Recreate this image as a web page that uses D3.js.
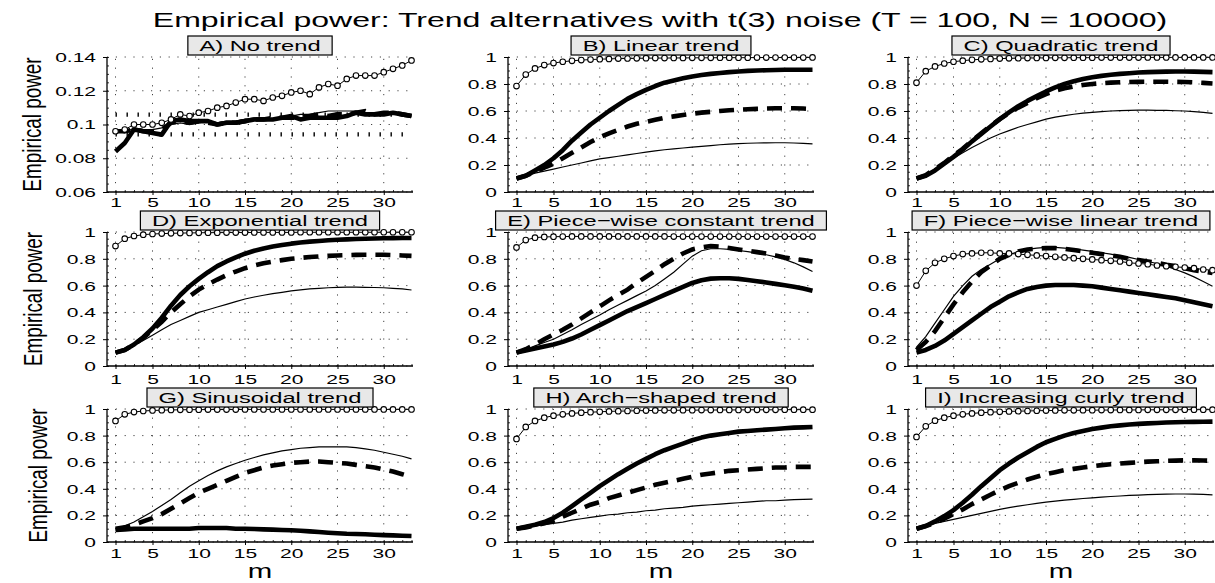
<!DOCTYPE html>
<html>
<head>
<meta charset="utf-8">
<script src="https://cdn.jsdelivr.net/npm/d3@7"></script>
<style>
  html, body { margin: 0; padding: 0; background: #fff; }
  svg { display: block; font-family: "Liberation Sans", Arial, Helvetica, sans-serif; }
</style>
</head>
<body>
<svg id="fig" width="1215" height="583"></svg>
<script>
// ---- data -------------------------------------------------------------
const mValues = d3.range(1, 34);                       // window length m = 1..33
const xTicks = [1, 5, 10, 15, 20, 25, 30];
const xTickLabels = ["1", "5", "10", "15", "20", "25", "30"];
const yTicksA = [0.06, 0.08, 0.1, 0.12, 0.14];
const yTickLabelsA = ["0.06", "0.08", "0.1", "0.12", "0.14"];
const yTicksUnit = [0, 0.2, 0.4, 0.6, 0.8, 1];
const yTickLabelsUnit = ["0", "0.2", "0.4", "0.6", "0.8", "1"];
const bandLevels = [0.0941, 0.1059];                   // 95% band around nominal size 0.1

const panelTitles = [
  "A) No trend", "B) Linear trend", "C) Quadratic trend",
  "D) Exponential trend", "E) Piece\u2212wise constant trend", "F) Piece\u2212wise linear trend",
  "G) Sinusoidal trend", "H) Arch\u2212shaped trend", "I) Increasing curly trend"
];

// A) No trend
const circA  = [0.096,0.097,0.100,0.100,0.100,0.101,0.103,0.106,0.105,0.107,0.108,0.110,0.111,0.113,0.115,0.115,0.114,0.116,0.117,0.119,0.120,0.118,0.122,0.124,0.123,0.127,0.129,0.129,0.129,0.131,0.133,0.135,0.138];
const thickA = [0.084,0.089,0.097,0.096,0.095,0.094,0.102,0.103,0.102,0.102,0.102,0.100,0.101,0.101,0.102,0.103,0.103,0.103,0.104,0.105,0.103,0.104,0.104,0.104,0.104,0.105,0.107,0.106,0.106,0.106,0.107,0.106,0.105];
const dashA  = [0.096,0.096,0.097,0.096,0.096,0.097,0.101,0.102,0.101,0.102,0.101,0.100,0.101,0.101,0.102,0.103,0.103,0.104,0.104,0.104,0.104,0.105,0.106,0.105,0.106,0.106,0.107,0.108,0.106,0.107,0.107,0.106,0.105];
const thinA  = [0.096,0.095,0.098,0.097,0.097,0.098,0.100,0.101,0.100,0.101,0.102,0.101,0.102,0.102,0.103,0.104,0.104,0.103,0.104,0.105,0.106,0.106,0.107,0.108,0.108,0.108,0.108,0.107,0.106,0.107,0.106,0.106,0.105];

// B) Linear trend
const circB  = [0.785,0.87,0.915,0.94,0.955,0.965,0.972,0.977,0.981,0.984,0.986,0.988,0.989,0.99,0.991,0.992,0.992,0.993,0.993,0.994,0.994,0.994,0.995,0.995,0.995,0.995,0.996,0.996,0.996,0.996,0.996,0.996,0.997];
const thickB = [0.10,0.12,0.16,0.20,0.25,0.31,0.38,0.44,0.50,0.55,0.60,0.645,0.69,0.725,0.757,0.785,0.81,0.826,0.842,0.856,0.866,0.875,0.882,0.888,0.893,0.897,0.9,0.902,0.904,0.905,0.906,0.906,0.906];
const dashB  = [0.10,0.12,0.15,0.18,0.21,0.25,0.29,0.33,0.37,0.405,0.435,0.46,0.485,0.505,0.52,0.535,0.55,0.56,0.57,0.58,0.588,0.594,0.6,0.605,0.61,0.613,0.616,0.618,0.62,0.62,0.62,0.618,0.615];
const thinB  = [0.10,0.12,0.14,0.155,0.17,0.185,0.20,0.215,0.23,0.245,0.255,0.265,0.275,0.285,0.295,0.305,0.313,0.32,0.326,0.332,0.338,0.344,0.35,0.355,0.358,0.361,0.363,0.364,0.365,0.365,0.363,0.36,0.356];

// C) Quadratic trend
const circC  = [0.81,0.895,0.93,0.952,0.965,0.973,0.979,0.983,0.986,0.988,0.99,0.991,0.992,0.993,0.993,0.994,0.994,0.995,0.995,0.995,0.996,0.996,0.996,0.996,0.996,0.997,0.997,0.997,0.997,0.997,0.997,0.997,0.997];
const thickC = [0.10,0.12,0.16,0.21,0.26,0.315,0.375,0.43,0.485,0.54,0.59,0.635,0.675,0.71,0.745,0.775,0.80,0.82,0.837,0.85,0.86,0.868,0.875,0.88,0.885,0.888,0.89,0.892,0.893,0.893,0.892,0.89,0.888];
const dashC  = [0.10,0.125,0.17,0.215,0.27,0.32,0.38,0.435,0.49,0.54,0.585,0.625,0.66,0.695,0.725,0.75,0.768,0.782,0.793,0.80,0.806,0.81,0.813,0.815,0.816,0.817,0.817,0.817,0.816,0.815,0.812,0.808,0.804];
const thinC  = [0.10,0.12,0.16,0.205,0.25,0.29,0.33,0.365,0.40,0.43,0.455,0.48,0.50,0.52,0.54,0.555,0.566,0.576,0.584,0.59,0.595,0.6,0.603,0.605,0.606,0.606,0.605,0.604,0.602,0.6,0.595,0.59,0.582];

// D) Exponential trend
const circD  = [0.895,0.95,0.97,0.98,0.985,0.988,0.99,0.992,0.993,0.994,0.995,0.995,0.996,0.996,0.996,0.997,0.997,0.997,0.997,0.997,0.998,0.998,0.998,0.998,0.998,0.998,0.998,0.998,0.998,0.998,0.998,0.998,0.998];
const thickD = [0.10,0.12,0.16,0.215,0.28,0.36,0.45,0.53,0.595,0.65,0.70,0.745,0.78,0.81,0.838,0.86,0.877,0.891,0.903,0.913,0.921,0.928,0.933,0.938,0.942,0.945,0.948,0.95,0.952,0.953,0.954,0.955,0.955];
const dashD  = [0.10,0.12,0.16,0.21,0.27,0.33,0.40,0.46,0.52,0.57,0.61,0.645,0.678,0.705,0.73,0.75,0.766,0.779,0.79,0.80,0.807,0.813,0.818,0.822,0.825,0.827,0.829,0.83,0.83,0.83,0.828,0.825,0.822];
const thinD  = [0.10,0.12,0.155,0.19,0.23,0.27,0.31,0.34,0.37,0.40,0.42,0.44,0.46,0.48,0.50,0.515,0.528,0.54,0.55,0.56,0.568,0.575,0.58,0.584,0.587,0.588,0.588,0.587,0.586,0.584,0.58,0.575,0.567];

// E) Piece-wise constant trend
const circE  = [0.885,0.94,0.958,0.963,0.965,0.966,0.967,0.967,0.967,0.967,0.967,0.967,0.967,0.967,0.967,0.967,0.967,0.966,0.966,0.966,0.966,0.966,0.966,0.966,0.966,0.966,0.966,0.966,0.966,0.966,0.966,0.966,0.966];
const thickE = [0.10,0.115,0.13,0.145,0.16,0.18,0.205,0.235,0.27,0.305,0.34,0.375,0.41,0.44,0.47,0.50,0.53,0.56,0.59,0.62,0.64,0.652,0.655,0.655,0.65,0.642,0.633,0.623,0.613,0.603,0.592,0.578,0.562];
const dashE  = [0.10,0.125,0.16,0.20,0.235,0.27,0.31,0.355,0.40,0.445,0.49,0.53,0.57,0.62,0.665,0.71,0.76,0.80,0.84,0.87,0.885,0.895,0.89,0.88,0.87,0.86,0.85,0.84,0.825,0.81,0.80,0.79,0.78];
const thinE  = [0.10,0.12,0.15,0.175,0.20,0.235,0.27,0.31,0.345,0.38,0.42,0.455,0.49,0.525,0.56,0.60,0.65,0.70,0.76,0.82,0.86,0.875,0.875,0.87,0.862,0.853,0.843,0.83,0.815,0.795,0.77,0.74,0.705];

// F) Piece-wise linear trend
const circF  = [0.60,0.71,0.77,0.80,0.82,0.835,0.84,0.845,0.845,0.84,0.84,0.835,0.83,0.825,0.82,0.815,0.81,0.805,0.80,0.795,0.79,0.785,0.78,0.77,0.765,0.76,0.75,0.745,0.74,0.735,0.73,0.72,0.715];
const thickF = [0.10,0.12,0.15,0.19,0.24,0.29,0.34,0.39,0.44,0.48,0.52,0.55,0.575,0.59,0.60,0.605,0.605,0.605,0.60,0.595,0.585,0.575,0.565,0.555,0.545,0.535,0.525,0.515,0.505,0.49,0.475,0.46,0.445];
const dashF  = [0.12,0.18,0.26,0.36,0.46,0.55,0.63,0.70,0.75,0.80,0.83,0.855,0.87,0.875,0.88,0.88,0.875,0.865,0.855,0.845,0.835,0.825,0.815,0.80,0.79,0.78,0.77,0.755,0.745,0.73,0.715,0.705,0.695];
const thinF  = [0.14,0.22,0.32,0.42,0.52,0.60,0.67,0.72,0.76,0.80,0.83,0.855,0.87,0.88,0.885,0.885,0.88,0.875,0.865,0.855,0.845,0.835,0.82,0.81,0.795,0.78,0.765,0.745,0.72,0.695,0.665,0.63,0.595];

// G) Sinusoidal trend
const circG  = [0.91,0.96,0.977,0.985,0.989,0.991,0.993,0.994,0.995,0.995,0.996,0.996,0.996,0.996,0.997,0.997,0.997,0.997,0.997,0.997,0.997,0.997,0.997,0.997,0.997,0.997,0.997,0.997,0.997,0.997,0.997,0.997,0.997];
const thickG = [0.09,0.095,0.10,0.10,0.10,0.10,0.10,0.10,0.10,0.105,0.105,0.105,0.105,0.10,0.10,0.098,0.095,0.093,0.09,0.088,0.085,0.08,0.075,0.07,0.066,0.062,0.06,0.058,0.055,0.052,0.05,0.047,0.045];
const dashG  = [0.10,0.11,0.13,0.155,0.18,0.21,0.25,0.29,0.33,0.37,0.40,0.43,0.46,0.49,0.52,0.54,0.56,0.575,0.585,0.595,0.60,0.605,0.605,0.60,0.595,0.59,0.58,0.57,0.56,0.545,0.53,0.51,0.49];
const thinG  = [0.10,0.12,0.15,0.19,0.23,0.275,0.32,0.37,0.42,0.46,0.50,0.535,0.565,0.59,0.615,0.635,0.655,0.67,0.685,0.695,0.705,0.71,0.715,0.715,0.715,0.715,0.71,0.70,0.69,0.675,0.66,0.645,0.625];

// H) Arch-shaped trend
const circH  = [0.775,0.865,0.91,0.935,0.95,0.96,0.967,0.972,0.976,0.979,0.982,0.984,0.985,0.987,0.988,0.989,0.99,0.99,0.991,0.991,0.992,0.992,0.993,0.993,0.993,0.994,0.994,0.994,0.994,0.995,0.995,0.995,0.995];
const thickH = [0.10,0.115,0.13,0.15,0.18,0.22,0.27,0.32,0.37,0.42,0.465,0.51,0.55,0.59,0.625,0.66,0.69,0.715,0.74,0.765,0.785,0.80,0.81,0.82,0.83,0.835,0.84,0.845,0.85,0.855,0.86,0.862,0.865];
const dashH  = [0.10,0.11,0.125,0.14,0.16,0.19,0.22,0.25,0.28,0.30,0.33,0.35,0.37,0.39,0.41,0.43,0.445,0.46,0.475,0.49,0.505,0.515,0.525,0.535,0.54,0.545,0.55,0.555,0.56,0.56,0.565,0.565,0.565];
const thinH  = [0.10,0.11,0.12,0.13,0.14,0.15,0.165,0.175,0.185,0.195,0.205,0.21,0.22,0.225,0.235,0.24,0.25,0.255,0.26,0.27,0.275,0.28,0.285,0.29,0.295,0.30,0.305,0.31,0.31,0.315,0.318,0.32,0.322];

// I) Increasing curly trend
const circI  = [0.79,0.87,0.912,0.935,0.95,0.96,0.967,0.972,0.976,0.979,0.982,0.984,0.985,0.987,0.988,0.989,0.99,0.99,0.991,0.991,0.992,0.992,0.993,0.993,0.993,0.994,0.994,0.994,0.994,0.995,0.995,0.995,0.995];
const thickI = [0.10,0.12,0.155,0.195,0.24,0.295,0.355,0.42,0.48,0.54,0.59,0.635,0.675,0.715,0.75,0.775,0.80,0.82,0.835,0.85,0.86,0.87,0.877,0.883,0.888,0.892,0.895,0.898,0.90,0.902,0.903,0.904,0.905];
const dashI  = [0.10,0.12,0.145,0.175,0.21,0.245,0.285,0.32,0.355,0.39,0.42,0.445,0.47,0.49,0.51,0.525,0.54,0.55,0.56,0.57,0.578,0.585,0.59,0.595,0.60,0.604,0.607,0.61,0.612,0.614,0.614,0.613,0.61];
const thinI  = [0.10,0.12,0.14,0.155,0.17,0.185,0.20,0.215,0.23,0.245,0.258,0.27,0.28,0.29,0.30,0.308,0.315,0.321,0.327,0.332,0.337,0.342,0.346,0.35,0.353,0.356,0.358,0.36,0.361,0.361,0.36,0.358,0.355];

const panels = [
  { circ: circA, thick: thickA, dash: dashA, thin: thinA, domain: [0.06, 0.14], ticks: yTicksA, labels: yTickLabelsA, minorStep: 0.005, band: true },
  { circ: circB, thick: thickB, dash: dashB, thin: thinB },
  { circ: circC, thick: thickC, dash: dashC, thin: thinC },
  { circ: circD, thick: thickD, dash: dashD, thin: thinD },
  { circ: circE, thick: thickE, dash: dashE, thin: thinE },
  { circ: circF, thick: thickF, dash: dashF, thin: thinF },
  { circ: circG, thick: thickG, dash: dashG, thin: thinG },
  { circ: circH, thick: thickH, dash: dashH, thin: thinH },
  { circ: circI, thick: thickI, dash: dashI, thin: thinI }
].map((p, i) => Object.assign({ domain: [0, 1], ticks: yTicksUnit, labels: yTickLabelsUnit, minorStep: 0.05, band: false, title: panelTitles[i] }, p));

// ---- layout -----------------------------------------------------------
const colLeft = [107, 508, 908];
const rowTop = [57, 232, 409];
const rowBottom = [192, 366, 542];
const plotW = 306;
const xLabelDy = [14.5, 17.5, 15.7];
const yLabelX = [41, 42, 47];

const svg = d3.select("#fig");

// horizontally widened text: scale about its anchor point
function widen(sel, k) {
  sel.each(function () {
    const t = d3.select(this);
    const x = +t.attr("x") || 0, y = +t.attr("y") || 0;
    t.attr("x", 0).attr("y", 0)
     .attr("transform", `translate(${x},${y}) scale(${k},1)`);
  });
}

// main title
const title = svg.append("text")
  .attr("text-anchor", "middle").attr("font-size", 20)
  .text("Empirical power: Trend alternatives with t(3) noise (T = 100, N = 10000)");
{
  const w = title.node().getComputedTextLength();
  title.attr("transform", `translate(660,27) scale(${1015 / w},1)`);
}

panels.forEach((p, i) => {
  const col = i % 3, row = Math.floor(i / 3);
  const L = colLeft[col], T = rowTop[row], B = rowBottom[row];
  const x = d3.scaleLinear().domain([1, 33]).range([L + 8.5, L + 304.5]);
  const y = d3.scaleLinear().domain(p.domain).range([B, T]);
  const g = svg.append("g");

  // dotted grid
  const grid = g.append("g").attr("stroke", "#444").attr("stroke-width", 1)
    .attr("stroke-dasharray", "1.2,7.6").attr("fill", "none");
  grid.selectAll("line.v").data(xTicks).join("line")
    .attr("x1", d => x(d)).attr("x2", d => x(d)).attr("y1", B).attr("y2", T);
  grid.selectAll("line.h").data(p.ticks).join("line")
    .attr("x1", L).attr("x2", L + plotW).attr("y1", d => y(d)).attr("y2", d => y(d));

  // minor ticks
  const minorY = d3.range(p.domain[0], p.domain[1] + 1e-9, p.minorStep);
  g.append("g").attr("transform", `translate(${L},0)`)
    .call(d3.axisRight(y).tickValues(minorY).tickSize(2).tickSizeOuter(0).tickFormat(""))
    .call(a => a.select(".domain").remove())
    .selectAll("line").attr("stroke", "#000").attr("stroke-width", 0.8);
  g.append("g").attr("transform", `translate(0,${B})`)
    .call(d3.axisTop(x).tickValues(mValues).tickSize(2).tickSizeOuter(0).tickFormat(""))
    .call(a => a.select(".domain").remove())
    .selectAll("line").attr("stroke", "#000").attr("stroke-width", 0.8);

  // axes
  const ya = g.append("g").attr("transform", `translate(${L},0)`)
    .call(d3.axisLeft(y).tickValues(p.ticks).tickSize(4).tickSizeOuter(0)
      .tickFormat((d, k) => p.labels[k]));
  ya.select(".domain").remove();
  ya.selectAll("line").attr("stroke", "#000").attr("stroke-width", 1);
  ya.selectAll("text").attr("font-size", 12).attr("fill", "#000")
    .attr("font-family", null).attr("x", -11).attr("y", 4.4).attr("dy", null)
    .call(widen, 1.75);

  const xa = g.append("g").attr("transform", `translate(0,${B})`)
    .call(d3.axisBottom(x).tickValues(xTicks).tickSize(3).tickSizeOuter(0)
      .tickFormat((d, k) => xTickLabels[k]));
  xa.select(".domain").remove();
  xa.selectAll("line").attr("stroke", "#000").attr("stroke-width", 1);
  xa.selectAll("text").attr("font-size", 12).attr("fill", "#000")
    .attr("font-family", null).attr("x", 0).attr("y", xLabelDy[row]).attr("dy", null)
    .call(widen, 1.75);

  g.append("line").attr("x1", L).attr("x2", L).attr("y1", B).attr("y2", T)
    .attr("stroke", "#000").attr("stroke-width", 1.3);
  g.append("line").attr("x1", L).attr("x2", L + plotW).attr("y1", B).attr("y2", B)
    .attr("stroke", "#000").attr("stroke-width", 1.3);

  // 95% band around nominal level
  if (p.band) {
    g.selectAll("line.band").data(bandLevels).join("line")
      .attr("x1", x(1)).attr("x2", x(33)).attr("y1", d => y(d)).attr("y2", d => y(d))
      .attr("stroke", "#000").attr("stroke-width", 4.2).attr("stroke-dasharray", "1.4,9.6");
  }

  const line = arr => d3.line().x((d, k) => x(mValues[k])).y(d => y(d))(arr);

  // circle-marked series
  g.append("path").attr("d", line(p.circ)).attr("fill", "none")
    .attr("stroke", "#000").attr("stroke-width", 1);
  // thick solid series
  g.append("path").attr("d", line(p.thick)).attr("fill", "none")
    .attr("stroke", "#000").attr("stroke-width", 4.6).attr("stroke-linejoin", "round");
  // thick dashed series
  g.append("path").attr("d", line(p.dash)).attr("fill", "none")
    .attr("stroke", "#000").attr("stroke-width", 4.6).attr("stroke-dasharray", "15,9");
  // thin solid series
  g.append("path").attr("d", line(p.thin)).attr("fill", "none")
    .attr("stroke", "#000").attr("stroke-width", 1.2);
  g.selectAll("circle").data(p.circ).join("circle")
    .attr("cx", (d, k) => x(mValues[k])).attr("cy", d => y(d)).attr("r", 2.8)
    .attr("fill", "#fff").attr("stroke", "#000").attr("stroke-width", 1.1);

  // panel title in a shaded box
  const cx = L + plotW / 2;
  const tg = g.append("g");
  const rect = tg.append("rect");
  const tt = tg.append("text").attr("text-anchor", "middle").attr("font-size", 15.5)
    .attr("x", cx).attr("y", T - 6.3).text(p.title);
  const tw = tt.node().getComputedTextLength() * 1.53;
  tt.call(widen, 1.53);
  rect.attr("x", cx - tw / 2 - 11.5).attr("width", tw + 23)
    .attr("y", T - 21).attr("height", 19)
    .attr("fill", "#e8e8e8").attr("stroke", "#000").attr("stroke-width", 1.2);

  // axis titles
  if (col === 0) {
    const yl = g.append("text").attr("text-anchor", "middle").attr("font-size", 25)
      .text("Empirical power");
    const w = yl.node().getComputedTextLength();
    yl.attr("transform", `translate(${yLabelX[row]},${(T + B) / 2}) rotate(-90) scale(${134 / w},1)`);
  }
  if (row === 2) {
    g.append("text").attr("text-anchor", "middle").attr("font-size", 21)
      .attr("x", cx).attr("y", 577.5).text("m").call(widen, 1.4);
  }
});
</script>
</body>
</html>
